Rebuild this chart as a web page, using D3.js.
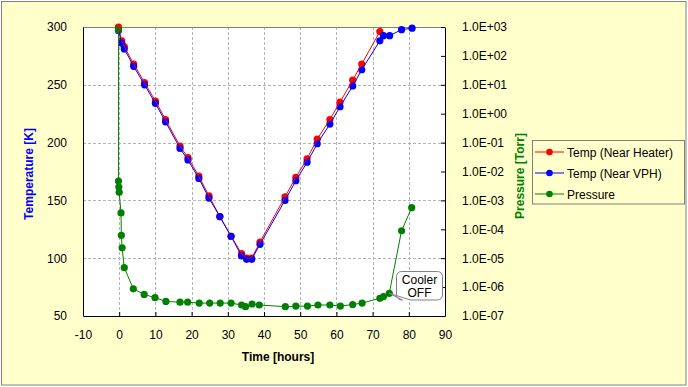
<!DOCTYPE html>
<html>
<head>
<meta charset="utf-8">
<script src="https://cdn.jsdelivr.net/npm/d3@7"></script>
<style>
  body { margin: 0; background: #fff; }
  svg { font-family: "Liberation Sans", Arial, sans-serif; display: block; }
</style>
</head>
<body>
<svg id="chart" width="688" height="387"></svg>
<script>
// temperature readings (hours, K)
const tempTimes   = [-0.2, 0.7, 1.4, 4, 7, 10, 12.8, 16.8, 19, 22, 24.8, 27.8, 30.9, 33.8, 35.2, 36.6, 38.9, 45.8, 48.8, 51.9, 54.7, 58.2, 61, 64.5, 67, 72, 73, 74.7, 78, 80.9];
const tempHeater  = [300, 288, 283, 268, 252, 236, 220, 197, 187, 171, 154, 136, 119, 104, 100, 100, 114, 153, 170, 186, 203, 220, 235, 254, 268, 296, 306, null, null, null];
const tempVPH     = [297, 286, 281, 266, 250, 234, 218, 195, 185, 169, 152, 136, 119, 102, 99, 99, 112, 150, 167, 183, 199, 216, 231, 249, 263, 288, 292.5, 292.5, 297.7, 299];

// pressure readings (hours, Torr)
const pressTimes  = [-0.2, -0.2, -0.1, 0, 0.5, 0.6, 0.8, 1.4, 3.9, 6.9, 9.9, 12.9, 16.8, 18.9, 22.1, 25, 27.9, 30.9, 33.8, 34.9, 36.7, 38.7, 45.9, 48.8, 52, 54.9, 58.2, 61.1, 64.5, 67.1, 72, 73, 74.6, 78, 80.8];
const pressure    = [790, 4.7e-3, 2.9e-3, 1.9e-3, 3.7e-4, 6.2e-5, 2.3e-5, 4.7e-6, 8.7e-7, 5.6e-7, 4.3e-7, 3.2e-7, 3.0e-7, 3.0e-7, 2.8e-7, 2.8e-7, 2.8e-7, 2.8e-7, 2.4e-7, 2.1e-7, 2.6e-7, 2.4e-7, 2.1e-7, 2.2e-7, 2.2e-7, 2.4e-7, 2.4e-7, 2.2e-7, 2.5e-7, 2.8e-7, 4.1e-7, 4.7e-7, 6.1e-7, 8.9e-5, 5.6e-4];

const timeTicks     = [-10, 0, 10, 20, 30, 40, 50, 60, 70, 80, 90];
const tempTicks     = [50, 100, 150, 200, 250, 300];
const pressureTicks = [1e3, 1e2, 1e1, 1e0, 1e-1, 1e-2, 1e-3, 1e-4, 1e-5, 1e-6, 1e-7];

const seriesNames = ["Temp (Near Heater)", "Temp (Near VPH)", "Pressure"];
const seriesColors = ["#ff0000", "#0000ff", "#008000"];

const annotationText = ["Cooler", "OFF"];
const annotationIndex = 32; // pressure point the callout points at

const svg = d3.select("#chart");
const plot = {left: 83, right: 445, top: 27, bottom: 316};

// background + outer frame
svg.append("rect")
    .attr("x", 1.5).attr("y", 1.5)
    .attr("width", 684.5).attr("height", 383.5)
    .attr("fill", "#ffffcc").attr("stroke", "#808080");

svg.append("rect")
    .attr("x", plot.left).attr("y", plot.top)
    .attr("width", plot.right - plot.left).attr("height", plot.bottom - plot.top)
    .attr("fill", "#ffffff");

const x = d3.scaleLinear().domain([-10, 90]).range([plot.left, plot.right]);
const yT = d3.scaleLinear().domain([50, 300]).range([plot.bottom, plot.top]);
const yP = d3.scaleLog().domain([1e-7, 1e3]).range([plot.bottom, plot.top]);

// gridlines
const grid = svg.append("g").attr("stroke", "#b4b4b4").attr("stroke-dasharray", "3,2");
grid.selectAll("line.v").data(timeTicks.slice(1, -1)).join("line")
    .attr("x1", d => Math.round(x(d)) + 0.5).attr("x2", d => Math.round(x(d)) + 0.5)
    .attr("y1", plot.top).attr("y2", plot.bottom);
grid.selectAll("line.h").data(tempTicks.slice(1, -1)).join("line")
    .attr("x1", plot.left).attr("x2", plot.right)
    .attr("y1", d => Math.round(yT(d)) + 0.5).attr("y2", d => Math.round(yT(d)) + 0.5);

// top border of plot area is gray
svg.append("line")
    .attr("x1", plot.left).attr("x2", plot.right)
    .attr("y1", plot.top + 0.5).attr("y2", plot.top + 0.5)
    .attr("stroke", "#808080");

// clip so points above 300 K disappear like in Excel
svg.append("clipPath").attr("id", "clip")
  .append("rect")
    .attr("x", plot.left).attr("y", plot.top - 4)
    .attr("width", plot.right - plot.left + 1).attr("height", plot.bottom - plot.top + 4);
const clipG = svg.append("g").attr("clip-path", "url(#clip)");
svg.append("clipPath").attr("id", "clipline")
  .append("rect")
    .attr("x", plot.left).attr("y", plot.top)
    .attr("width", plot.right - plot.left).attr("height", plot.bottom - plot.top);

function drawSeries(times, values, yScale, color) {
    const pts = times.map((t, i) => [t, values[i]]).filter(d => d[1] != null);
    const line = d3.line().x(d => x(d[0])).y(d => yScale(d[1]));
    svg.append("path")
        .attr("clip-path", "url(#clipline)")
        .attr("d", line(pts))
        .attr("fill", "none").attr("stroke", color).attr("stroke-width", 1);
    clipG.append("g").selectAll("circle")
        .data(pts.filter(d => yScale(d[1]) >= plot.top - 1))
        .join("circle")
        .attr("cx", d => x(d[0])).attr("cy", d => yScale(d[1]))
        .attr("r", 3.6).attr("fill", color);
}

drawSeries(tempTimes, tempHeater, yT, seriesColors[0]);
drawSeries(tempTimes, tempVPH, yT, seriesColors[1]);
drawSeries(pressTimes, pressure, yP, seriesColors[2]);

// axes
const fmtExp = p => {
    const e = Math.round(Math.log10(p));
    return "1.0E" + (e < 0 ? "-" : "+") + String(Math.abs(e)).padStart(2, "0");
};

const xAxis = svg.append("g").attr("transform", `translate(0,${plot.bottom})`)
    .call(d3.axisBottom(x).tickValues(timeTicks).tickFormat(d => String(d))
        .tickSizeInner(-4).tickSizeOuter(0).tickPadding(14));
const yAxisL = svg.append("g").attr("transform", `translate(${plot.left},0)`)
    .call(d3.axisLeft(yT).tickValues(tempTicks).tickFormat(d => String(d))
        .tickSize(0).tickPadding(16));
const yAxisR = svg.append("g").attr("transform", `translate(${plot.right},0)`)
    .call(d3.axisRight(yP).tickValues(pressureTicks).tickFormat(fmtExp)
        .tickSizeInner(-4).tickSizeOuter(0).tickPadding(17));

[xAxis, yAxisL, yAxisR].forEach(a => {
    a.selectAll("text").attr("font-size", 12).attr("fill", "#000")
        .attr("font-family", "'Liberation Sans', Arial, sans-serif");
    a.select(".domain").attr("stroke", "#000");
    a.selectAll(".tick line").attr("stroke", "#000");
});

// axis titles
svg.append("text")
    .attr("x", 278).attr("y", 361)
    .attr("text-anchor", "middle").attr("font-size", 12).attr("font-weight", "bold")
    .text("Time [hours]");
svg.append("text")
    .attr("transform", "translate(33,174) rotate(-90)")
    .attr("text-anchor", "middle").attr("font-size", 12).attr("font-weight", "bold")
    .attr("fill", "#0000ff")
    .text("Temperature [K]");
svg.append("text")
    .attr("transform", "translate(524,176) rotate(-90)")
    .attr("text-anchor", "middle").attr("font-size", 12).attr("font-weight", "bold")
    .attr("fill", "#008000")
    .text("Pressure [Torr]");

// callout "Cooler OFF"
const ax = x(pressTimes[annotationIndex]), ay = yP(pressure[annotationIndex]);
const bx = 396.5, by = 271.5, bw = 46, bh = 28.5, r = 5;
const callout = d3.path();
callout.moveTo(bx + r, by);
callout.lineTo(bx + bw - r, by);
callout.arcTo(bx + bw, by, bx + bw, by + r, r);
callout.lineTo(bx + bw, by + bh - r);
callout.arcTo(bx + bw, by + bh, bx + bw - r, by + bh, r);
callout.lineTo(bx + 14, by + bh);
callout.lineTo(ax, ay);
callout.lineTo(bx + 6, by + bh);
callout.lineTo(bx + r, by + bh);
callout.arcTo(bx, by + bh, bx, by + bh - r, r);
callout.lineTo(bx, by + r);
callout.arcTo(bx, by, bx + r, by, r);
callout.closePath();
svg.append("path").attr("d", callout.toString())
    .attr("fill", "#ffffff").attr("stroke", "#808080");
svg.append("g").selectAll("text").data(annotationText).join("text")
    .attr("x", bx + bw / 2).attr("y", (d, i) => by + 12 + i * 13.5)
    .attr("text-anchor", "middle").attr("font-size", 12).attr("fill", "#000")
    .text(d => d);

// legend
const legend = svg.append("g");
legend.append("rect")
    .attr("x", 532.5).attr("y", 140.5).attr("width", 152).attr("height", 63.5)
    .attr("fill", "#ffffcc").attr("stroke", "#808080");
const items = legend.selectAll("g.item").data(seriesNames).join("g")
    .attr("transform", (d, i) => `translate(0,${152 + i * 21})`);
items.append("line")
    .attr("x1", 535).attr("x2", 564).attr("y1", 0).attr("y2", 0)
    .attr("stroke", (d, i) => seriesColors[i]);
items.append("circle")
    .attr("cx", 549.5).attr("cy", 0).attr("r", 3.3)
    .attr("fill", (d, i) => seriesColors[i]);
items.append("text")
    .attr("x", 567).attr("y", 4.5).attr("font-size", 12).attr("fill", "#000")
    .text(d => d);
</script>
</body>
</html>
